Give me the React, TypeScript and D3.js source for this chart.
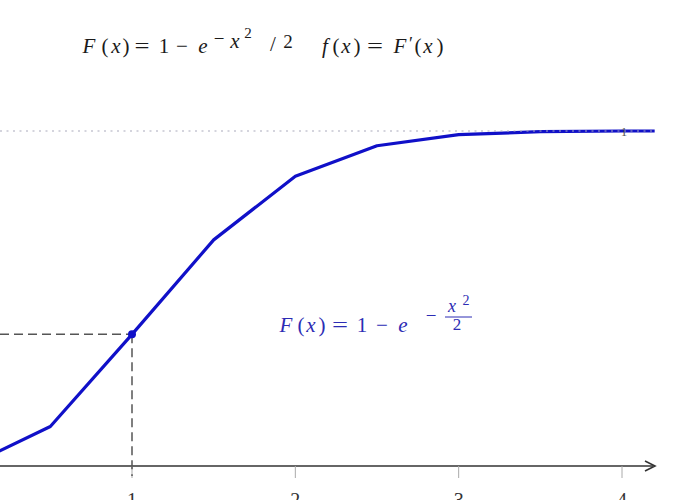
import React from "react";
import * as d3 from "d3";

const xValues = [0, 0.5, 1, 1.5, 2, 2.5, 3, 3.5, 4, 4.2];
const fValues = [0, 0.118, 0.393, 0.675, 0.865, 0.956, 0.989, 0.998, 1.0, 1.0];
const xTicks = [1, 2, 3, 4];
const markX = 1;
const markF = 0.393;

const W = 683;
const H = 500;
const BLUE = "#1010c8";
const SERIF = "'Liberation Serif', 'DejaVu Serif', serif";

type Glyph = [string, number, number, number, boolean, number?];

function Formula({ glyphs, fill }: { glyphs: Glyph[]; fill: string }) {
  return (
    <g fill={fill} fontFamily={SERIF}>
      {glyphs.map(([ch, cx, by, size, italic, len], i) => (
        <text
          key={i}
          x={cx}
          y={by}
          fontSize={size}
          fontStyle={italic ? "italic" : "normal"}
          textAnchor="middle"
          {...(len ? { textLength: len, lengthAdjust: "spacingAndGlyphs" } : {})}
        >
          {ch}
        </text>
      ))}
    </g>
  );
}

export default function App() {
  const x = d3.scaleLinear().domain([1, 4]).range([132, 622]);
  const y = d3.scaleLinear().domain([0, 1]).range([466, 131]);
  const line = d3
    .line<number>()
    .x((_, i) => x(xValues[i]))
    .y((d) => y(d));
  const axisY = y(0);
  const axisEnd = 655;

  const S = 21;
  const title: Glyph[] = [
    ["F", 89, 53, S, true],
    ["(", 105, 53, S, false],
    ["x", 116, 53, S, true],
    [")", 126, 53, S, false],
    ["=", 142, 53, S, false, 15],
    ["1", 164, 53, S, false],
    ["−", 182, 53, S, false],
    ["e", 203, 53, S, true],
    ["−", 219, 45, 19, false],
    ["x", 235, 48, 21, true],
    ["2", 248, 38, 15, false],
    ["/", 273, 51, 21, false],
    ["2", 288, 48, 19, false],
    ["f", 325, 53, S, true],
    ["(", 336, 53, S, false],
    ["x", 346, 53, S, true],
    [")", 357, 53, S, false],
    ["=", 375, 53, S, false, 16],
    ["F", 400, 53, S, true],
    ["′", 411, 50, 18, false],
    ["(", 418, 53, S, false],
    ["x", 428, 53, S, true],
    [")", 440, 53, S, false],
  ];

  const label: Glyph[] = [
    ["F", 286, 332, S, true],
    ["(", 301, 332, S, false],
    ["x", 311, 332, S, true],
    [")", 322, 332, S, false],
    ["=", 340, 332, S, false, 16],
    ["1", 362, 332, S, false],
    ["−", 382, 332, S, false],
    ["e", 403, 332, S, true],
    ["−", 431, 322, 19, false],
    ["x", 452, 312, 18, true],
    ["2", 466, 305, 14, false],
    ["2", 457, 330, 17, false],
  ];

  const tc = "#1a1a1a";
  const bc = "#2c2cb4";

  return (
    <svg width={W} height={H} style={{ position: "absolute", left: 0, top: 0, background: "#fff" }}>
      <Formula glyphs={title} fill={tc} />

      {/* x axis */}
      <line x1={0} x2={axisEnd - 2} y1={axisY} y2={axisY} stroke="#333" strokeWidth={1.5} />
      <path
        d={`M${axisEnd - 10},${axisY - 5} L${axisEnd},${axisY} L${axisEnd - 10},${axisY + 5}`}
        fill="none"
        stroke="#333"
        strokeWidth={1.6}
      />
      {xTicks.map((v) => (
        <g key={v}>
          <line x1={x(v)} x2={x(v)} y1={axisY} y2={axisY + 12} stroke="#aaa" strokeWidth={1} />
          <text x={x(v)} y={507} textAnchor="middle" fontSize={20} fill="#333" fontFamily={SERIF}>
            {v}
          </text>
        </g>
      ))}

      {/* dashed guides */}
      <line x1={0} x2={x(markX)} y1={y(markF)} y2={y(markF)} stroke="#555" strokeWidth={1.5} strokeDasharray="9 5" />
      <line x1={x(markX)} x2={x(markX)} y1={y(markF)} y2={axisY + 10} stroke="#555" strokeWidth={1.5} strokeDasharray="9 5" />

      {/* curve */}
      <path d={line(fValues) || ""} fill="none" stroke={BLUE} strokeWidth={3.2} strokeLinejoin="round" />
      {/* dotted asymptote over the curve */}
      <line x1={0} x2={axisEnd} y1={y(1)} y2={y(1)} stroke="#aab" strokeWidth={1.2} strokeDasharray="2 4.5" />
      <circle cx={x(markX)} cy={y(markF)} r={4} fill={BLUE} />

      {/* small tick label on asymptote */}
      <text x={x(4) + 2} y={y(1) + 5} textAnchor="middle" fontSize={13} fill="#555" fontFamily={SERIF}>
        1
      </text>

      <Formula glyphs={label} fill={bc} />
      <line x1={445} x2={472} y1={317} y2={317} stroke={bc} strokeWidth={1} />
    </svg>
  );
}
